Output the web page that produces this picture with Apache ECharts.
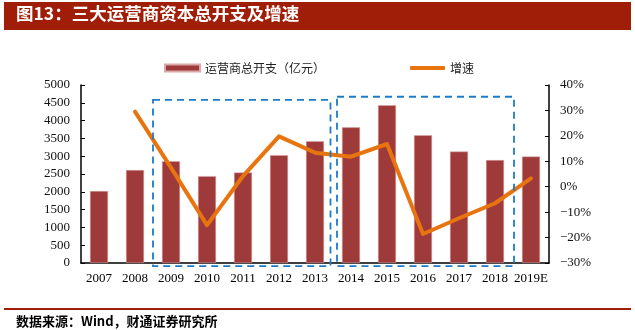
<!DOCTYPE html>
<html>
<head>
<meta charset="utf-8">
<script src="https://cdn.jsdelivr.net/npm/echarts@6/dist/echarts.min.js"></script>
<style>
html,body{margin:0;padding:0;background:#fff;}
#c{width:635px;height:330px;}
</style>
</head>
<body>
<div id="c"></div>
<script>
const categories = ['2007','2008','2009','2010','2011','2012','2013','2014','2015','2016','2017','2018','2019E'];
const capex = [2020, 2610, 2860, 2440, 2540, 3030, 3420, 3810, 4430, 3590, 3130, 2890, 2990];
const growth = [null, 29.5, 7.5, -15.1, 4.2, 19.8, 13.4, 11.8, 16.8, -18.6, -12.4, -6.5, 3.3];
const leftTicks = {min: 0, max: 5000, interval: 500};
const rightTicks = {min: -30, max: 40, interval: 10};
const boxes = [
  {from: '2009', to: '2013', top: 4580, bottom: -90, padL: 0, padR: -2.5},
  {from: '2014', to: '2018', top: 4670, bottom: -90, padL: 4, padR: 1}
];
const titleText = '图13：三大运营商资本总开支及增速';
const sourceText = '数据来源：Wind，财通证券研究所';
const barName = '运营商总开支（亿元）';
const lineName = '增速';

const serif = '"Liberation Serif","DejaVu Serif",serif';
const cjk = '"Noto Sans CJK SC","Noto Sans",sans-serif';
const chart = echarts.init(document.getElementById('c'), null, {renderer: 'canvas'});
const option = {
  animation: false,
  backgroundColor: '#fff',
  grid: {left: 81, right: 86, top: 85, bottom: 67},
  legend: [
    {data: [barName], left: 159, top: 57, itemWidth: 35, itemHeight: 7, icon: 'rect',
     textStyle: {fontFamily: cjk, fontSize: 12, color: '#222'}},
    {data: [{name: lineName, icon: 'roundRect'}], left: 405, top: 57, itemWidth: 35, itemHeight: 4,
     textStyle: {fontFamily: cjk, fontSize: 12, color: '#222'}}
  ],
  xAxis: {
    type: 'category', data: categories, boundaryGap: true,
    axisLine: {lineStyle: {color: '#000', width: 1.5}},
    axisTick: {inside: true, length: 4, lineStyle: {color: '#000'}},
    axisLabel: {fontFamily: serif, fontSize: 13, color: '#000', margin: 9, interval: 0}
  },
  yAxis: [
    {type: 'value', min: leftTicks.min, max: leftTicks.max, interval: leftTicks.interval,
     splitLine: {show: false},
     axisLine: {show: true, lineStyle: {color: '#000', width: 1.5}},
     axisTick: {show: true, inside: true, length: 4, lineStyle: {color: '#000'}},
     axisLabel: {fontFamily: serif, fontSize: 13, color: '#111', margin: 11, formatter: v => String(v)}},
    {type: 'value', min: rightTicks.min, max: rightTicks.max, interval: rightTicks.interval,
     splitLine: {show: false},
     axisLine: {show: true, lineStyle: {color: '#000', width: 1.5}},
     axisTick: {show: true, inside: true, length: 4, lineStyle: {color: '#000'}},
     axisLabel: {fontFamily: serif, fontSize: 13, color: '#111', margin: 11,
       formatter: v => (v < 0 ? '\u2212' + Math.abs(v) : v) + '%'}}
  ],
  series: [
    {name: barName, type: 'bar', data: capex, barWidth: '50%', yAxisIndex: 0,
     itemStyle: {color: '#9F3A3A', borderColor: '#D9A8A8', borderWidth: 0.5}},
    {name: lineName, type: 'line', data: growth, yAxisIndex: 1, showSymbol: false, symbol: 'none',
     lineStyle: {color: '#E8740F', width: 4, cap: 'round', join: 'round'},
     itemStyle: {color: '#E8740F'}, z: 5}
  ]
};
chart.setOption(option);

const band = chart.convertToPixel({xAxisIndex: 0}, categories[1]) - chart.convertToPixel({xAxisIndex: 0}, categories[0]);
const graphics = [
  {type: 'rect', left: 4, top: 2, shape: {width: 627, height: 28}, style: {fill: '#A01E08'}, z: 10},
  {type: 'text', left: 16, top: 5, style: {text: titleText, fill: '#fff', font: 'bold 17.5px ' + cjk}, z: 11},
  {type: 'rect', left: 4, top: 308, shape: {width: 627, height: 2}, style: {fill: '#A01E08'}, z: 10},
  {type: 'text', left: 16, top: 315, style: {text: sourceText, fill: '#000', font: 'bold 13px ' + cjk}, z: 11}
];
boxes.forEach(b => {
  const x1 = chart.convertToPixel({xAxisIndex: 0}, b.from) - band / 2 + b.padL;
  const x2 = chart.convertToPixel({xAxisIndex: 0}, b.to) + band / 2 + b.padR;
  const y1 = chart.convertToPixel({yAxisIndex: 0}, b.top);
  const y2 = chart.convertToPixel({yAxisIndex: 0}, b.bottom);
  graphics.push({type: 'rect', shape: {x: x1, y: y1, width: x2 - x1, height: y2 - y1},
    style: {fill: 'none', stroke: '#1E7BC9', lineWidth: 1.8, lineDash: [7, 5]}, z: 20});
});
chart.setOption({graphic: graphics});
</script>
</body>
</html>
